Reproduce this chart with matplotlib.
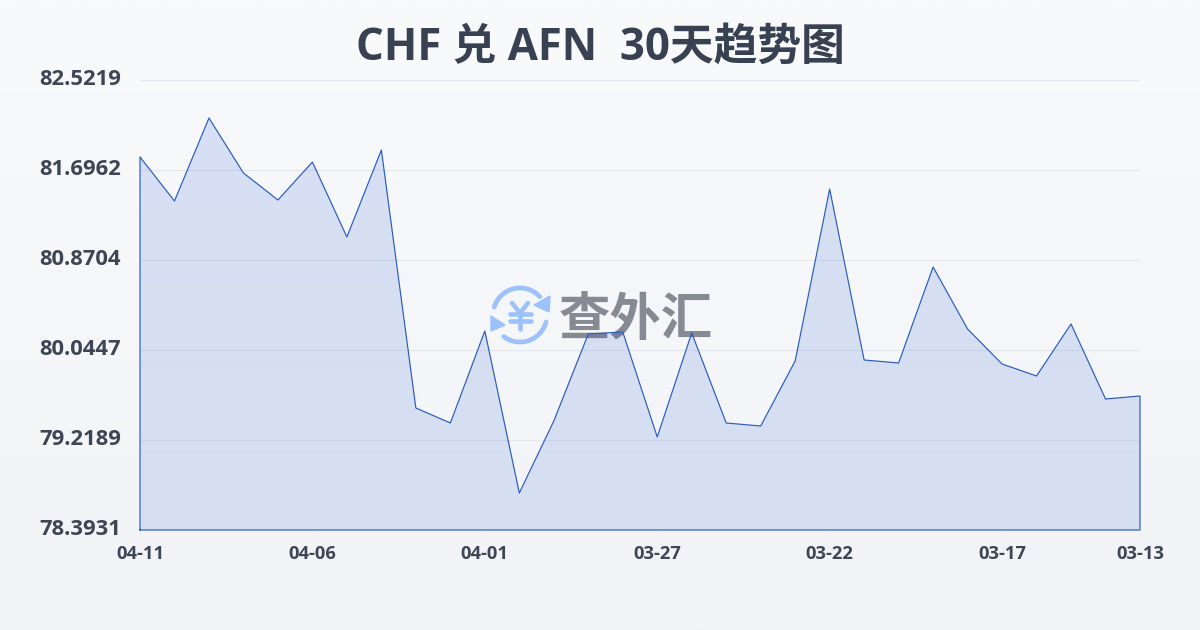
import numpy as np
import matplotlib
matplotlib.use("Agg")
import matplotlib.pyplot as plt
from matplotlib.patches import Polygon
from matplotlib.transforms import ScaledTranslation

plt.rcParams['font.family'] = ['Noto Sans CJK SC', 'DejaVu Sans']

title = "CHF 兑 AFN  30天趋势图"
watermark = "查外汇"
dates = ["04-11", "04-06", "04-01", "03-27", "03-22", "03-17", "03-13"]
date_pos = [0, 5, 10, 15, 20, 25, 29]
y_ticks = [82.5219, 81.6962, 80.8704, 80.0447, 79.2189, 78.3931]
rates = [81.8154, 81.4117, 82.1732, 81.6686, 81.4209, 81.7695, 81.0814, 81.8796,
         79.5125, 79.3749, 80.2190, 78.7326, 79.3932, 80.1914, 80.2098, 79.2464,
         80.2006, 79.3749, 79.3473, 79.9437, 81.5218, 79.9529, 79.9254, 80.8062,
         80.2373, 79.9162, 79.8061, 80.2832, 79.5951, 79.6226]

W, H = 1200, 630
fig = plt.figure(figsize=(12, 6.3), dpi=100)

# page background and logo, in pixel coordinates
bg = fig.add_axes([0, 0, 1, 1], zorder=0)
grad = np.linspace(0, 1, 256).reshape(-1, 1, 1)
top = np.array([248, 250, 252]) / 255
bottom = np.array([241, 243, 246]) / 255
bg.imshow(top + grad * (bottom - top), extent=[0, W, H, 0], aspect="auto", zorder=0)

logo_blue = "#9dc1fb"
cx, cy, r = 520, 315, 27
for a0, a1 in [(163, 43), (-15, -127)]:
    a = np.radians(np.linspace(a0, a1, 40))
    bg.plot(cx + r * np.cos(a), cy - r * np.sin(a), color=logo_blue, lw=3.4,
            solid_capstyle="round", zorder=1)
bg.add_patch(Polygon([(550, 296), (549, 312), (534, 305)], color=logo_blue, zorder=1))
bg.add_patch(Polygon([(491, 316), (491, 331), (505, 325)], color=logo_blue, zorder=1))
for xs, ys in [([512, 520, 528], [303, 313, 303]), ([510, 531], [313.5, 313.5]),
               ([510, 531], [321, 321]), ([520, 520], [313, 329])]:
    bg.plot(xs, ys, color=logo_blue, lw=3.3, solid_capstyle="round", zorder=1)
bg.text(636, 319, watermark, fontsize=37, fontweight="bold", color="#868a92",
        ha="center", va="center", zorder=1)
bg.set_xlim(0, W)
bg.set_ylim(H, 0)
bg.axis("off")

# chart
ax = fig.add_axes([140 / W, 1 - 530 / H, 1000 / W, 450 / H], zorder=1)
ax.patch.set_alpha(0)
x = np.arange(len(rates))

poly = ax.fill_between(x, rates, y_ticks[-1], color="none", zorder=2)
rgba = np.zeros((256, 1, 4))
rgba[:, :, 0] = 0.11
rgba[:, :, 1] = 0.31
rgba[:, :, 2] = 0.80
rgba[:, 0, 3] = np.linspace(0.15, 0.13, 256)
shade = ax.imshow(rgba, extent=[0, 29, y_ticks[-1], y_ticks[0]], aspect="auto", zorder=2)
shade.set_clip_path(poly.get_paths()[0], transform=ax.transData)
ax.set_xlim(0, len(rates) - 1)
ax.set_ylim(y_ticks[-1], y_ticks[0])

ax.plot(np.r_[x[0], x, x[-1], x[0]], np.r_[y_ticks[-1], rates, y_ticks[-1], y_ticks[-1]],
        color="#2a5bbd", lw=0.85, zorder=3, clip_on=False)

ax.set_yticks(y_ticks)
ax.set_yticklabels([f"{v:.4f}" for v in y_ticks])
ax.set_xticks(date_pos)
ax.set_xticklabels(dates)
ax.grid(axis="y", color="#e3e7ed", lw=0.8, zorder=1)
ax.set_axisbelow(True)
for s in ax.spines.values():
    s.set_visible(False)
ax.tick_params(axis="y", length=0, pad=13.5, labelsize=15.8, labelcolor="#3d4654")
ax.tick_params(axis="x", length=4, width=0.5, color="#eceff3", pad=6.5, labelsize=13.2, labelcolor="#3d4654")
for lab in ax.get_yticklabels() + ax.get_xticklabels():
    lab.set_fontweight("bold")
    lab.set_family(["Open Sans", "DejaVu Sans"])
up = ScaledTranslation(0, 2 / 72, fig.dpi_scale_trans)
for lab in ax.get_yticklabels():
    lab.set_transform(lab.get_transform() + up)

fig.text(600 / W, 1 - 48.5 / H, title, fontsize=31.5, fontweight="bold", color="#374151",
         ha="center", va="center", family=["Open Sans", "Noto Sans CJK SC"])

fig.savefig("out.png", dpi=100)
